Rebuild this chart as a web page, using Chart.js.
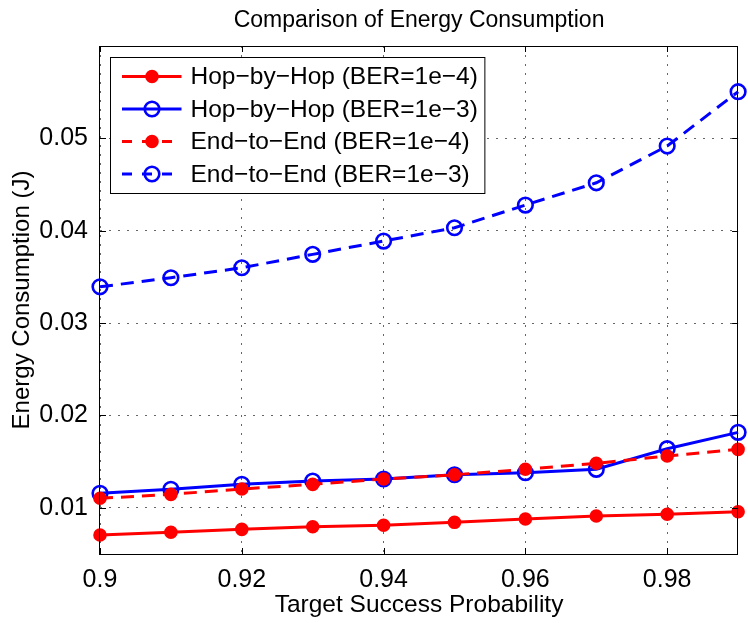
<!DOCTYPE html>
<html>
<head>
<meta charset="utf-8">
<script src="https://cdn.jsdelivr.net/npm/chart.js@4.4.0/dist/chart.umd.min.js"></script>
<style>
  body { margin: 0; background: #fff; }
  #wrap { width: 748px; height: 623px; }
</style>
</head>
<body>
<div id="wrap"><canvas id="energy-chart"></canvas></div>
<script>
const successProb = [0.90, 0.91, 0.92, 0.93, 0.94, 0.95, 0.96, 0.97, 0.98, 0.99];
const hopBer4 = [0.00706, 0.00735, 0.00767, 0.00795, 0.00811, 0.00843, 0.00879, 0.00911, 0.00930, 0.00958];
const hopBer3 = [0.01157, 0.01200, 0.01254, 0.01290, 0.01312, 0.01358, 0.01380, 0.01417, 0.01640, 0.01817];
const e2eBer4 = [0.01103, 0.01146, 0.01204, 0.01254, 0.01312, 0.01358, 0.01417, 0.01482, 0.01561, 0.01633];
const e2eBer3 = [0.03393, 0.03491, 0.03599, 0.03744, 0.03888, 0.04032, 0.04278, 0.04519, 0.04917, 0.05505];
const xTicks = [0.90, 0.92, 0.94, 0.96, 0.98];
const yTicks = [0.01, 0.02, 0.03, 0.04, 0.05];
const seriesNames = [
  'Hop\u2212by\u2212Hop (BER=1e\u22124)',
  'Hop\u2212by\u2212Hop (BER=1e\u22123)',
  'End\u2212to\u2212End (BER=1e\u22124)',
  'End\u2212to\u2212End (BER=1e\u22123)'
];
const chartTitle = 'Comparison of Energy Consumption';

const FONT = "'Liberation Sans', Arial, Helvetica, sans-serif";
const RED = '#ff0000';
const BLUE = '#0000ff';

function points(ys) {
  return successProb.map((x, i) => ({ x: x, y: ys[i] }));
}

function makeSeries(idx, ys, color, dashed, hollow, order) {
  return {
    label: seriesNames[idx],
    data: points(ys),
    borderColor: color,
    backgroundColor: color,
    borderWidth: 3,
    borderDash: dashed ? [13, 8] : [],
    pointStyle: 'circle',
    pointRadius: hollow ? 7.3 : 5.3,
    pointBorderWidth: hollow ? 2.6 : 3,
    pointBorderColor: color,
    pointBackgroundColor: hollow ? 'rgba(0,0,0,0)' : color,
    tension: 0,
    clip: false,
    order: order,
    _hollow: hollow,
    _dashed: dashed
  };
}

// title over the axes, box around axes, inward tick marks and the legend box
const matlabFrame = {
  id: 'matlabFrame',
  afterDraw(chart) {
    const ctx = chart.ctx;
    const a = chart.chartArea;
    const xs = chart.scales.x, ys = chart.scales.y;
    ctx.save();

    ctx.fillStyle = '#000';
    ctx.font = '23px ' + FONT;
    ctx.textAlign = 'center';
    ctx.textBaseline = 'alphabetic';
    ctx.fillText(chartTitle, (a.left + a.right) / 2, 27);

    ctx.setLineDash([]);
    ctx.strokeStyle = '#000';
    ctx.lineWidth = 1;
    ctx.strokeRect(Math.round(a.left) - 0.5, Math.round(a.top) + 0.5,
      Math.round(a.right - a.left), Math.round(a.bottom - a.top));
    const tl = 6;
    ctx.beginPath();
    xTicks.forEach(v => {
      const px = Math.round(xs.getPixelForValue(v)) + 0.5;
      ctx.moveTo(px, a.bottom); ctx.lineTo(px, a.bottom - tl);
      ctx.moveTo(px, a.top); ctx.lineTo(px, a.top + tl);
    });
    yTicks.forEach(v => {
      const py = Math.round(ys.getPixelForValue(v)) + 0.5;
      ctx.moveTo(a.left, py); ctx.lineTo(a.left + tl, py);
      ctx.moveTo(a.right, py); ctx.lineTo(a.right - tl, py);
    });
    ctx.stroke();

    // legend
    ctx.font = '24.5px ' + FONT;
    const sets = chart.data.datasets;
    let maxW = 0;
    sets.forEach(d => { maxW = Math.max(maxW, ctx.measureText(d.label).width); });
    const bx = a.left + 10.5, by = a.top + 11.5;
    const rowH = 32.5;
    const bw = 80 + maxW + 7, bh = 136;
    ctx.fillStyle = '#fff';
    ctx.fillRect(bx, by, bw, bh);
    ctx.strokeStyle = '#000';
    ctx.lineWidth = 1;
    ctx.strokeRect(bx, by, bw, bh);
    sets.forEach((d, i) => {
      const cy = by + 19 + i * rowH;
      const x0 = bx + 11.5, x1 = bx + 71, mx = bx + 41.5;
      ctx.strokeStyle = d.borderColor;
      ctx.lineWidth = 3;
      ctx.setLineDash(d._dashed ? [10, 10] : []);
      ctx.beginPath();
      ctx.moveTo(x0, cy); ctx.lineTo(x1, cy);
      ctx.stroke();
      ctx.setLineDash([]);
      ctx.beginPath();
      ctx.arc(mx, cy, d.pointRadius, 0, Math.PI * 2);
      ctx.lineWidth = d.pointBorderWidth;
      if (!d._hollow) { ctx.fillStyle = d.borderColor; ctx.fill(); }
      ctx.stroke();
      ctx.fillStyle = '#000';
      ctx.textBaseline = 'middle';
      ctx.textAlign = 'left';
      ctx.fillText(d.label, bx + 80, cy + 1);
    });
    ctx.restore();
  }
};

const chartConfig = {
  type: 'line',
  data: {
    datasets: [
      makeSeries(0, hopBer4, RED, false, false, 4),
      makeSeries(1, hopBer3, BLUE, false, true, 3),
      makeSeries(2, e2eBer4, RED, true, false, 2),
      makeSeries(3, e2eBer3, BLUE, true, true, 1)
    ]
  },
  options: {
    responsive: true,
    maintainAspectRatio: false,
    animation: false,
    layout: { padding: { top: 46, right: 3, bottom: 0, left: 0 } },
    plugins: {
      legend: { display: false },
      tooltip: { enabled: false },
      title: { display: false }
    },
    scales: {
      x: {
        type: 'linear',
        min: 0.9,
        max: 0.99,
        afterBuildTicks: (axis) => { axis.ticks = xTicks.map(v => ({ value: v })); },
        afterFit: (axis) => { axis.height = 69; axis.paddingLeft = 0; axis.paddingRight = 0; },
        ticks: {
          color: '#000',
          padding: 11,
          maxRotation: 0,
          font: { family: FONT, size: 25 },
          callback: (v) => String(Number(v.toFixed(2)))
        },
        grid: { color: '#666', lineWidth: 1, drawTicks: false },
        border: { display: false, dash: [2, 7] },
        title: {
          display: true,
          text: 'Target Success Probability',
          color: '#000',
          font: { family: FONT, size: 24.5 },
          padding: { top: 0, bottom: 3 }
        }
      },
      y: {
        min: 0.005,
        max: 0.06,
        afterBuildTicks: (axis) => { axis.ticks = yTicks.map(v => ({ value: v })); },
        afterFit: (axis) => { axis.width = 100; axis.paddingTop = 0; axis.paddingBottom = 0; },
        ticks: {
          color: '#000',
          padding: 12,
          font: { family: FONT, size: 25 },
          callback: (v) => String(Number(v.toFixed(3)))
        },
        grid: { color: '#666', lineWidth: 1, drawTicks: false },
        border: { display: false, dash: [2, 7] },
        title: {
          display: true,
          text: 'Energy Consumption (J)',
          color: '#000',
          font: { family: FONT, size: 24 },
          padding: { top: 8, bottom: 0 }
        }
      }
    }
  },
  plugins: [matlabFrame]
};

new Chart(document.getElementById('energy-chart'), chartConfig);
</script>
</body>
</html>
